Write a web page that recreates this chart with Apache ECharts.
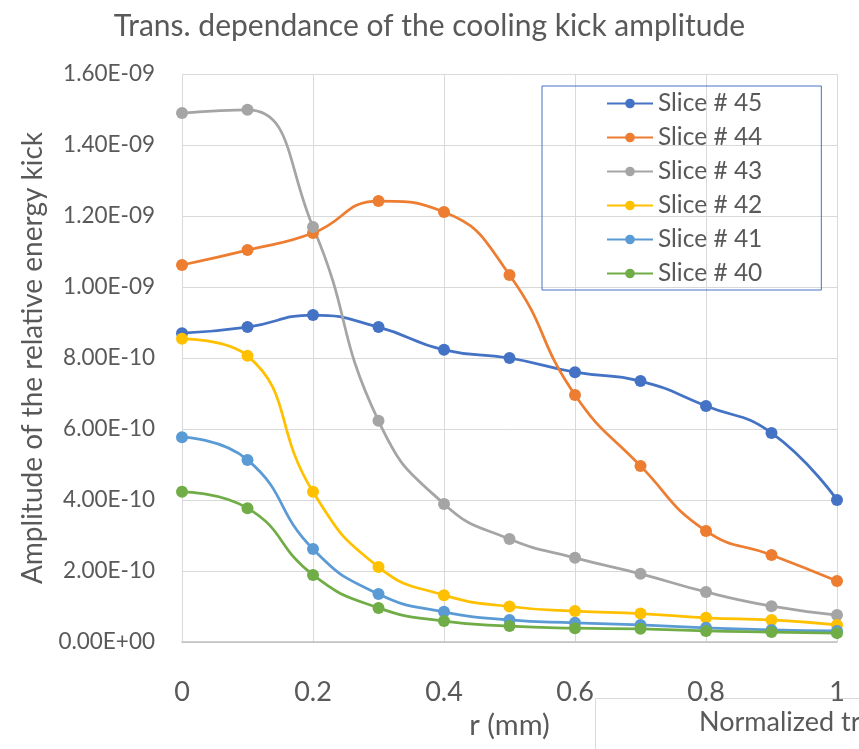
<!DOCTYPE html>
<html><head><meta charset="utf-8">
<script src="https://cdn.jsdelivr.net/npm/echarts@6/dist/echarts.min.js"></script>
<style>html,body{margin:0;padding:0;background:#fff}#c{width:859px;height:749px}</style>
</head><body><div id="c"></div>
<script>
const xValues = [0, 0.1, 0.2, 0.3, 0.4, 0.5, 0.6, 0.7, 0.8, 0.9, 1.0];
const seriesNames = ['Slice # 45', 'Slice # 44', 'Slice # 43', 'Slice # 42', 'Slice # 41', 'Slice # 40'];
const slice45 = [8.70e-10, 8.87e-10, 9.21e-10, 8.87e-10, 8.23e-10, 8.00e-10, 7.60e-10, 7.35e-10, 6.65e-10, 5.89e-10, 4.00e-10];
const slice44 = [1.062e-9, 1.104e-9, 1.152e-9, 1.242e-9, 1.211e-9, 1.034e-9, 6.96e-10, 4.96e-10, 3.13e-10, 2.45e-10, 1.72e-10];
const slice43 = [1.490e-9, 1.499e-9, 1.169e-9, 6.23e-10, 3.89e-10, 2.90e-10, 2.37e-10, 1.92e-10, 1.41e-10, 1.01e-10, 7.6e-11];
const slice42 = [8.54e-10, 8.06e-10, 4.23e-10, 2.11e-10, 1.32e-10, 1.00e-10, 8.7e-11, 8.0e-11, 6.8e-11, 6.2e-11, 4.8e-11];
const slice41 = [5.77e-10, 5.13e-10, 2.62e-10, 1.35e-10, 8.5e-11, 6.2e-11, 5.4e-11, 4.8e-11, 4.0e-11, 3.4e-11, 3.1e-11];
const slice40 = [4.23e-10, 3.77e-10, 1.89e-10, 9.6e-11, 5.9e-11, 4.5e-11, 3.9e-11, 3.7e-11, 3.1e-11, 2.8e-11, 2.5e-11];
const colors = ['#4472C4', '#ED7D31', '#A5A5A5', '#FFC000', '#5B9BD5', '#70AD47'];
const allData = [slice45, slice44, slice43, slice42, slice41, slice40];

const FONT = 'Lato, "Open Sans", sans-serif';
function expFmt(v) {
  if (v === 0) return '0.00E+00';
  let s = Number(v).toExponential(2).toUpperCase();
  return s.replace(/E([+-])(\d)$/, 'E$10$2');
}

const chart = echarts.init(document.getElementById('c'));
chart.setOption({
  animation: false,
  color: colors,
  title: {
    text: 'Trans. dependance of the cooling kick amplitude',
    left: 'center', top: 6,
    textStyle: { fontFamily: FONT, fontSize: 30, fontWeight: 'normal', color: '#595959' }
  },
  grid: { left: 182, right: 22, top: 74, bottom: 107 },
  legend: {
    orient: 'vertical', left: 542, top: 86,
    borderColor: '#4472C4', borderWidth: 1,
    padding: [5, 59, 4, 64],
    itemWidth: 46, itemHeight: 12, itemGap: 9,
    data: seriesNames,
    textStyle: { fontFamily: FONT, fontSize: 24.5, lineHeight: 24, color: '#595959' }
  },
  xAxis: {
    type: 'value', min: 0, max: 1, interval: 0.2,
    name: 'r (mm)', nameLocation: 'middle', nameGap: 66,
    nameTextStyle: { fontFamily: FONT, fontSize: 29, color: '#595959' },
    axisLine: { show: true, lineStyle: { color: '#BFBFBF', width: 1.5 } },
    axisTick: { show: false },
    splitLine: { show: true, lineStyle: { color: '#D9D9D9', width: 1 } },
    axisLabel: { fontFamily: FONT, fontSize: 27, color: '#595959', margin: 37,
      formatter: v => String(Math.round(v * 10) / 10) }
  },
  yAxis: {
    type: 'value', min: 0, max: 1.6e-9, interval: 2e-10,
    name: 'Amplitude of the relative energy kick', nameLocation: 'middle', nameGap: 135,
    nameTextStyle: { fontFamily: FONT, fontSize: 28, color: '#595959' },
    axisLine: { show: false }, axisTick: { show: false },
    splitLine: { show: true, lineStyle: { color: '#D9D9D9', width: 1 } },
    axisLabel: { fontFamily: FONT, fontSize: 22.5, color: '#595959', margin: 27, formatter: expFmt }
  },
  graphic: [
    { type: 'rect', left: 595, top: 698, shape: { width: 300, height: 60 },
      style: { fill: '#fff', stroke: '#D9D9D9', lineWidth: 1 } },
    { type: 'text', left: 699, top: 709,
      style: { text: 'Normalized transverse position', fontFamily: FONT, fontSize: 27, fill: '#595959' } }
  ],
  series: allData.map((d, i) => ({
    name: seriesNames[i], type: 'line', smooth: 0.5,
    data: xValues.map((x, j) => [x, d[j]]),
    symbol: 'circle', symbolSize: 12,
    lineStyle: { width: 2.75, color: colors[i] },
    itemStyle: { color: colors[i] }
  }))
});
</script></body></html>
